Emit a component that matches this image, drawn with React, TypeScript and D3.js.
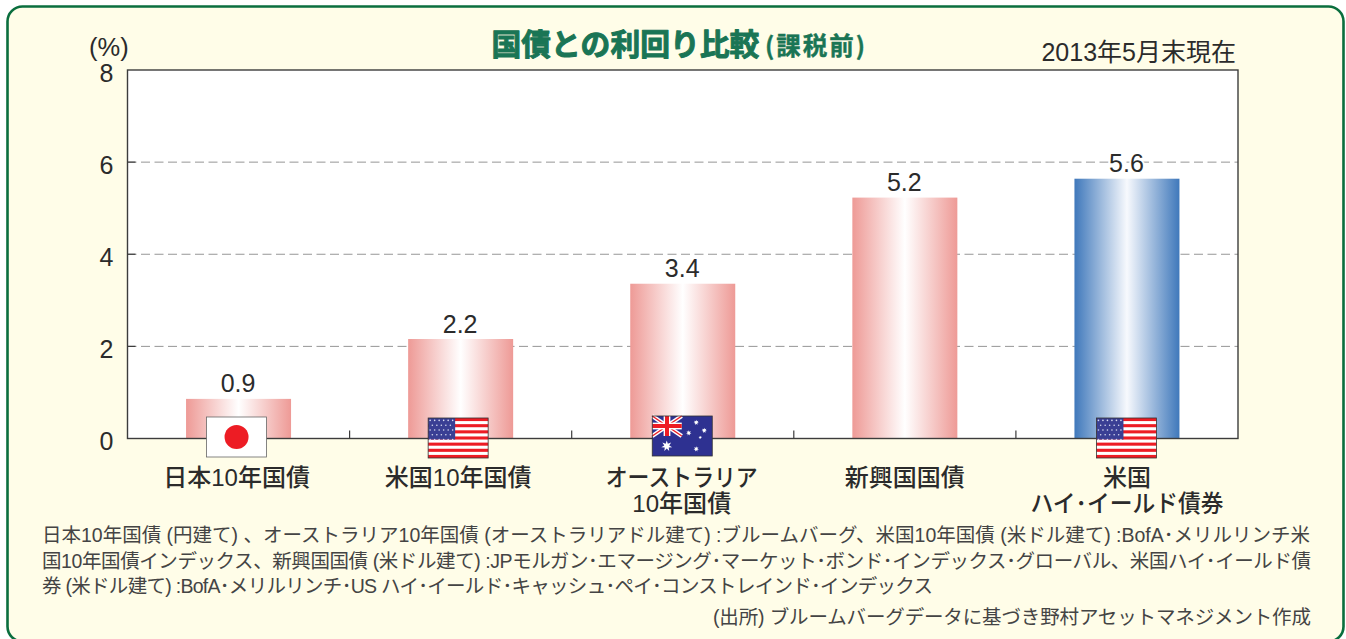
import * as d3 from "d3";

// ── Data ──────────────────────────────────────────────────
const categories = ["日本10年国債", "米国10年国債", "オーストラリア\n10年国債", "新興国国債", "米国\nハイ･イールド債券"];
const yields = [0.86, 2.16, 3.36, 5.23, 5.64];
const flags = ["jp", "us", "au", "", "us"];
const barKinds = ["pink", "pink", "pink", "pink", "blue"];
const yTicks = [0, 2, 4, 6, 8];
const footnotes = [
  "日本10年国債 (円建て) 、オーストラリア10年国債 (オーストラリアドル建て) :ブルームバーグ、米国10年国債 (米ドル建て) :BofA･メリルリンチ米",
  "国10年国債インデックス、新興国国債 (米ドル建て) :JPモルガン･エマージング･マーケット･ボンド･インデックス･グローバル、米国ハイ･イールド債",
  "券 (米ドル建て) :BofA･メリルリンチ･US ハイ･イールド･キャッシュ･ペイ･コンストレインド･インデックス",
];
const footnoteWidths = [1268, 1269, 891];
const source = "(出所) ブルームバーグデータに基づき野村アセットマネジメント作成";

// ── Layout ────────────────────────────────────────────────
const W = 1346;
const H = 639;
const plot = { left: 127.5, right: 1238, top: 70, bottom: 438.5 };
const FONT = "'Liberation Sans', 'Noto Sans CJK JP', sans-serif";
const CJK = "'Noto Sans CJK JP', sans-serif";
const INK = "#2b2b2b";
const GREEN = "#0a6e3e";
const TITLE_GREEN = "#1a7555";
const FLAG_W = 60;
const FLAG_H = 40;
const BAR_W = 105;

const x = d3.scaleBand<number>()
  .domain(d3.range(categories.length))
  .range([plot.left, plot.right]);
const y = d3.scaleLinear().domain([0, 8]).range([plot.bottom, plot.top]);

// the kana-heavy lines are set tighter than the kanji ones
const squeezedLines: Record<string, number> = {
  "オーストラリア": 152,
  "ハイ･イールド債券": 193,
  "10年国債": 99,
};

// star outline from d3's radial line
function starPath(r: number, points = 5) {
  const pts: [number, number][] = d3.range(points * 2).map(i => [
    (i * Math.PI) / points,
    i % 2 === 0 ? r : r * 0.45,
  ]);
  return d3.lineRadial().curve(d3.curveLinearClosed)(pts) ?? "";
}

function JapanFlag() {
  return (
    <g>
      <rect x={0} y={0} width={FLAG_W} height={FLAG_H} fill="#fff" stroke="#666" strokeWidth={0.8} />
      <circle cx={FLAG_W / 2} cy={FLAG_H / 2} r={12} fill="#ed1c24" />
    </g>
  );
}

function UsFlag() {
  const stripe = FLAG_H / 13;
  return (
    <g>
      <rect width={FLAG_W} height={FLAG_H} fill="#fff" />
      {d3.range(0, 13, 2).map(i => (
        <rect key={i} y={i * stripe} width={FLAG_W} height={stripe} fill="#ed1c24" />
      ))}
      <rect width={27} height={stripe * 7} fill="#3a3f94" />
      {d3.range(5).map(r =>
        d3.range(r % 2 ? 5 : 6).map(c => (
          <circle key={`${r}-${c}`}
            cx={(r % 2 ? 4.2 : 2) + c * 4.5}
            cy={2.4 + r * 4.8}
            r={0.8} fill="#d9dcf0" />
        ))
      )}
      <rect width={FLAG_W} height={FLAG_H} fill="none" stroke="#333" strokeWidth={0.8} />
    </g>
  );
}

function AustraliaFlag() {
  const uw = 29.5;
  const uh = 20;
  const smallStars = [[44, 6.5], [36.5, 17], [52, 14.5], [48, 21.5], [44, 33]];
  return (
    <g>
      <rect width={FLAG_W} height={FLAG_H} fill="#2e3191" />
      <g>
        <line x1={0} y1={0} x2={uw} y2={uh} stroke="#fff" strokeWidth={4} />
        <line x1={uw} y1={0} x2={0} y2={uh} stroke="#fff" strokeWidth={4} />
        <line x1={0} y1={0} x2={uw} y2={uh} stroke="#ed1c24" strokeWidth={1.4} />
        <line x1={uw} y1={0} x2={0} y2={uh} stroke="#ed1c24" strokeWidth={1.4} />
        <rect x={uw / 2 - 3.4} y={0} width={6.8} height={uh} fill="#fff" />
        <rect x={0} y={uh / 2 - 3.4} width={uw} height={6.8} fill="#fff" />
        <rect x={uw / 2 - 2} y={0} width={4} height={uh} fill="#ed1c24" />
        <rect x={0} y={uh / 2 - 2} width={uw} height={4} fill="#ed1c24" />
      </g>
      <path d={starPath(5.6, 7)} transform="translate(14.5,30)" fill="#fff" />
      {smallStars.map(([sx, sy], i) => (
        <path key={i} d={starPath(i === 3 ? 1.8 : 2.8, 7)} transform={`translate(${sx},${sy})`} fill="#fff" />
      ))}
      <rect width={FLAG_W} height={FLAG_H} fill="none" stroke="#333" strokeWidth={0.8} />
    </g>
  );
}

const FLAG_COMPONENTS: Record<string, () => JSX.Element> = {
  jp: JapanFlag,
  us: UsFlag,
  au: AustraliaFlag,
};
// flags sit a little off the bar centres in the original
const flagNudge = [[-2, -21.5], [-2.5, -20.5], [-0.5, -22.5], [0, 0], [-0.5, -20.5]];
const labelNudge = [-2, -2.5, -1, 0, 0];

export default function App() {
  return (
    <svg width={W} height={H} viewBox={`0 0 ${W} ${H}`}
      style={{ position: "absolute", left: 0, top: 0, display: "block", background: "#fff" }}>
      <defs>
        <linearGradient id="bar-pink">
          <stop offset="0" stopColor="#ee9a96" />
          <stop offset="0.5" stopColor="#ffffff" />
          <stop offset="1" stopColor="#ee9a96" />
        </linearGradient>
        <linearGradient id="bar-blue">
          <stop offset="0" stopColor="#3f78bb" />
          <stop offset="0.5" stopColor="#f7f9fd" />
          <stop offset="1" stopColor="#3f78bb" />
        </linearGradient>
      </defs>

      {/* ── Frame ── */}
      <rect x={7.5} y={6.5} width={1336} height={635} rx={15} ry={15}
        fill="#fffde8" stroke={GREEN} strokeWidth={2.6} />

      {/* ── Title ── */}
      <text x={491.5} y={55} fontFamily={CJK} fontWeight={700} fill={TITLE_GREEN}
        stroke={TITLE_GREEN} strokeWidth={1} strokeLinejoin="round" fontSize={29.8}>
        国債との利回り比較
      </text>
      <text x={765} y={55} fontFamily={CJK} fontWeight={700} fill={TITLE_GREEN}
        fontSize={24.5} textLength={100} stroke={TITLE_GREEN} strokeWidth={0.4}>
        (課税前)
      </text>
      <text x={89} y={56} fontFamily={FONT} fontSize={25.5} fill={INK}>(%)</text>
      <text x={1236} y={61} textAnchor="end" fontFamily={FONT} fontSize={25} fill={INK}>
        2013年5月末現在
      </text>

      {/* ── Plot area ── */}
      <rect x={plot.left} y={plot.top} width={plot.right - plot.left} height={plot.bottom - plot.top} fill="#fff" />

      {yTicks.filter(t => t > 0 && t < 8).map(t => (
        <line key={t} x1={plot.left} x2={plot.right} y1={y(t)} y2={y(t)}
          stroke="#8a8a8a" strokeWidth={0.9} strokeDasharray="9 4.5" />
      ))}

      {yields.map((v, i) => {
        const cx = x(i)! + x.bandwidth() / 2;
        return (
          <rect key={i} x={cx - BAR_W / 2} y={y(v)} width={BAR_W} height={y(0) - y(v)}
            fill={`url(#bar-${barKinds[i]})`} />
        );
      })}

      <rect x={plot.left} y={plot.top} width={plot.right - plot.left} height={plot.bottom - plot.top}
        fill="none" stroke="#3c3c3c" strokeWidth={1.4} />

      {/* ── Ticks ── */}
      {yTicks.filter(t => t > 0 && t < 8).map(t => (
        <line key={t} x1={plot.left} x2={plot.left + 8} y1={y(t)} y2={y(t)} stroke="#3c3c3c" strokeWidth={1.2} />
      ))}
      {d3.range(1, categories.length).map(i => (
        <line key={i} x1={x(i)!} x2={x(i)!} y1={plot.bottom} y2={plot.bottom - 8} stroke="#3c3c3c" strokeWidth={1.2} />
      ))}
      {yTicks.map(t => (
        <text key={t} x={113.5} y={y(t) + 11.5} textAnchor="end"
          fontFamily={FONT} fontSize={25} fill={INK}>{t}</text>
      ))}

      {/* ── Value labels ── */}
      {yields.map((v, i) => {
        const cx = x(i)! + x.bandwidth() / 2;
        return (
          <text key={i} x={cx - 0.5} y={y(v) - 6.5} textAnchor="middle"
            fontFamily={FONT} fontSize={25} fill={INK}
            stroke="#fff" strokeWidth={4} paintOrder="stroke">
            {d3.format(".1f")(v)}
          </text>
        );
      })}

      {/* ── Flags ── */}
      {flags.map((f, i) => {
        if (!f) return null;
        const Flag = FLAG_COMPONENTS[f];
        const cx = x(i)! + x.bandwidth() / 2;
        return (
          <g key={i} transform={`translate(${cx - FLAG_W / 2 + flagNudge[i][0]},${y(0) + flagNudge[i][1]})`}>
            <Flag />
          </g>
        );
      })}

      {/* ── Category labels ── */}
      {categories.map((c, i) => {
        const cx = x(i)! + x.bandwidth() / 2 + labelNudge[i];
        return (
          <text key={i} textAnchor="middle" fontFamily={FONT} fontSize={24} fontWeight={500} fill={INK}>
            {c.split("\n").map((line, li) => (
              <tspan key={li} x={cx} y={y(0) + 47.5 + li * 26}
                textLength={squeezedLines[line]} lengthAdjust="spacingAndGlyphs">
                {line}
              </tspan>
            ))}
          </text>
        );
      })}

      {/* ── Notes ── */}
      {footnotes.map((line, i) => (
        <text key={i} x={42} y={542 + i * 25.7} fontFamily={FONT} fontSize={19.5}
          fill="#444" textLength={footnoteWidths[i]} lengthAdjust="spacing">
          {line}
        </text>
      ))}
      <text x={1311} y={624} textAnchor="end" fontFamily={FONT} fontSize={19.5}
        fill="#444" textLength={598} lengthAdjust="spacing">
        {source}
      </text>
    </svg>
  );
}
